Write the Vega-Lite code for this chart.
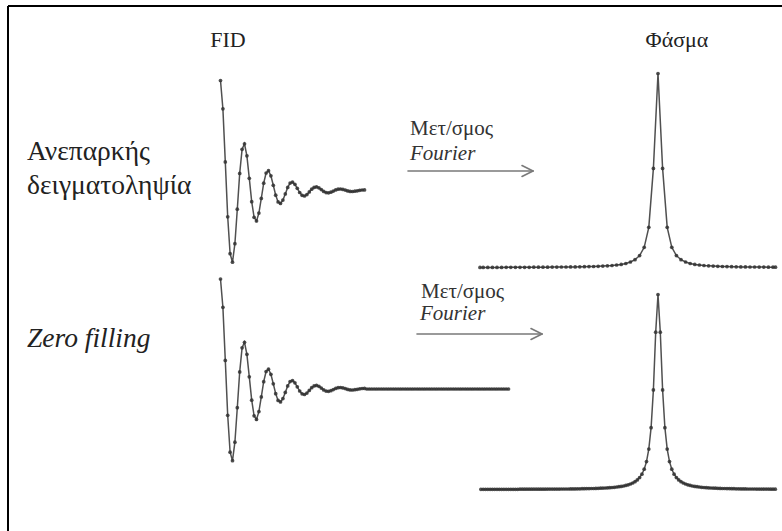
{
  "$schema": "https://vega.github.io/schema/vega-lite/v6.json",
  "width": 782,
  "height": 531,
  "autosize": {"type": "fit", "contains": "padding"},
  "padding": 0,
  "background": "white",
  "view": {"stroke": null},
  "datasets": {
    "curves": [
      {"c":"fid1","x":220.5,"y":80.5},{"c":"fid1","x":222.9,"y":108.8},{"c":"fid1","x":225.3,"y":161.9},{"c":"fid1","x":227.7,"y":216.8},{"c":"fid1","x":230.1,"y":253.7},{"c":"fid1","x":232.5,"y":262.2},{"c":"fid1","x":234.9,"y":243.7},{"c":"fid1","x":237.3,"y":209.2},{"c":"fid1","x":239.7,"y":173.4},{"c":"fid1","x":242.1,"y":149.3},{"c":"fid1","x":244.5,"y":143.8},{"c":"fid1","x":246.9,"y":155.8},{"c":"fid1","x":249.3,"y":178.3},{"c":"fid1","x":251.7,"y":201.7},{"c":"fid1","x":254.1,"y":217.3},{"c":"fid1","x":256.5,"y":220.9},{"c":"fid1","x":258.9,"y":213.1},{"c":"fid1","x":261.3,"y":198.4},{"c":"fid1","x":263.7,"y":183.2},{"c":"fid1","x":266.1,"y":173.0},{"c":"fid1","x":268.5,"y":170.7},{"c":"fid1","x":270.9,"y":175.8},{"c":"fid1","x":273.3,"y":185.3},{"c":"fid1","x":275.7,"y":195.2},{"c":"fid1","x":278.1,"y":201.9},{"c":"fid1","x":280.5,"y":203.4},{"c":"fid1","x":282.9,"y":200.1},{"c":"fid1","x":285.3,"y":193.9},{"c":"fid1","x":287.7,"y":187.4},{"c":"fid1","x":290.1,"y":183.1},{"c":"fid1","x":292.5,"y":182.1},{"c":"fid1","x":294.9,"y":184.3},{"c":"fid1","x":297.3,"y":188.3},{"c":"fid1","x":299.7,"y":192.5},{"c":"fid1","x":302.1,"y":195.3},{"c":"fid1","x":304.5,"y":196.0},{"c":"fid1","x":306.9,"y":194.6},{"c":"fid1","x":309.3,"y":191.9},{"c":"fid1","x":311.7,"y":189.2},{"c":"fid1","x":314.1,"y":187.4},{"c":"fid1","x":316.5,"y":186.9},{"c":"fid1","x":318.9,"y":187.8},{"c":"fid1","x":321.3,"y":189.6},{"c":"fid1","x":323.7,"y":191.4},{"c":"fid1","x":326.1,"y":192.6},{"c":"fid1","x":328.5,"y":192.8},{"c":"fid1","x":330.9,"y":192.2},{"c":"fid1","x":333.3,"y":191.1},{"c":"fid1","x":335.7,"y":189.9},{"c":"fid1","x":338.1,"y":189.2},{"c":"fid1","x":340.5,"y":189.0},{"c":"fid1","x":342.9,"y":189.4},{"c":"fid1","x":345.3,"y":190.1},{"c":"fid1","x":347.7,"y":190.9},{"c":"fid1","x":350.1,"y":191.4},{"c":"fid1","x":352.5,"y":191.5},{"c":"fid1","x":354.9,"y":191.2},{"c":"fid1","x":357.3,"y":190.8},{"c":"fid1","x":359.7,"y":190.3},{"c":"fid1","x":362.1,"y":190.0},{"c":"fid1","x":364.5,"y":189.9},

      {"c":"fid2","x":220.5,"y":279.0},{"c":"fid2","x":222.9,"y":307.3},{"c":"fid2","x":225.3,"y":360.4},{"c":"fid2","x":227.7,"y":415.3},{"c":"fid2","x":230.1,"y":452.2},{"c":"fid2","x":232.5,"y":460.7},{"c":"fid2","x":234.9,"y":442.2},{"c":"fid2","x":237.3,"y":407.7},{"c":"fid2","x":239.7,"y":371.9},{"c":"fid2","x":242.1,"y":347.8},{"c":"fid2","x":244.5,"y":342.3},{"c":"fid2","x":246.9,"y":354.3},{"c":"fid2","x":249.3,"y":376.8},{"c":"fid2","x":251.7,"y":400.2},{"c":"fid2","x":254.1,"y":415.8},{"c":"fid2","x":256.5,"y":419.4},{"c":"fid2","x":258.9,"y":411.6},{"c":"fid2","x":261.3,"y":396.9},{"c":"fid2","x":263.7,"y":381.7},{"c":"fid2","x":266.1,"y":371.5},{"c":"fid2","x":268.5,"y":369.2},{"c":"fid2","x":270.9,"y":374.3},{"c":"fid2","x":273.3,"y":383.8},{"c":"fid2","x":275.7,"y":393.7},{"c":"fid2","x":278.1,"y":400.4},{"c":"fid2","x":280.5,"y":401.9},{"c":"fid2","x":282.9,"y":398.6},{"c":"fid2","x":285.3,"y":392.4},{"c":"fid2","x":287.7,"y":385.9},{"c":"fid2","x":290.1,"y":381.6},{"c":"fid2","x":292.5,"y":380.6},{"c":"fid2","x":294.9,"y":382.8},{"c":"fid2","x":297.3,"y":386.8},{"c":"fid2","x":299.7,"y":391.0},{"c":"fid2","x":302.1,"y":393.8},{"c":"fid2","x":304.5,"y":394.5},{"c":"fid2","x":306.9,"y":393.1},{"c":"fid2","x":309.3,"y":390.4},{"c":"fid2","x":311.7,"y":387.7},{"c":"fid2","x":314.1,"y":385.9},{"c":"fid2","x":316.5,"y":385.4},{"c":"fid2","x":318.9,"y":386.3},{"c":"fid2","x":321.3,"y":388.1},{"c":"fid2","x":323.7,"y":389.9},{"c":"fid2","x":326.1,"y":391.1},{"c":"fid2","x":328.5,"y":391.3},{"c":"fid2","x":330.9,"y":390.7},{"c":"fid2","x":333.3,"y":389.6},{"c":"fid2","x":335.7,"y":388.4},{"c":"fid2","x":338.1,"y":387.7},{"c":"fid2","x":340.5,"y":387.5},{"c":"fid2","x":342.9,"y":387.9},{"c":"fid2","x":345.3,"y":388.6},{"c":"fid2","x":347.7,"y":389.4},{"c":"fid2","x":350.1,"y":389.9},{"c":"fid2","x":352.5,"y":390.0},{"c":"fid2","x":354.9,"y":389.7},{"c":"fid2","x":357.3,"y":389.3},{"c":"fid2","x":359.7,"y":388.8},{"c":"fid2","x":362.1,"y":388.5},{"c":"fid2","x":364.5,"y":388.4},
      {"c":"fid2","x":366.9,"y":389},{"c":"fid2","x":369.3,"y":389},{"c":"fid2","x":371.7,"y":389},{"c":"fid2","x":374.1,"y":389},{"c":"fid2","x":376.5,"y":389},{"c":"fid2","x":378.9,"y":389},{"c":"fid2","x":381.3,"y":389},{"c":"fid2","x":383.7,"y":389},{"c":"fid2","x":386.1,"y":389},{"c":"fid2","x":388.5,"y":389},{"c":"fid2","x":390.9,"y":389},{"c":"fid2","x":393.3,"y":389},{"c":"fid2","x":395.7,"y":389},{"c":"fid2","x":398.1,"y":389},{"c":"fid2","x":400.5,"y":389},{"c":"fid2","x":402.9,"y":389},{"c":"fid2","x":405.3,"y":389},{"c":"fid2","x":407.7,"y":389},{"c":"fid2","x":410.1,"y":389},{"c":"fid2","x":412.5,"y":389},{"c":"fid2","x":414.9,"y":389},{"c":"fid2","x":417.3,"y":389},{"c":"fid2","x":419.7,"y":389},{"c":"fid2","x":422.1,"y":389},{"c":"fid2","x":424.5,"y":389},{"c":"fid2","x":426.9,"y":389},{"c":"fid2","x":429.3,"y":389},{"c":"fid2","x":431.7,"y":389},{"c":"fid2","x":434.1,"y":389},{"c":"fid2","x":436.5,"y":389},{"c":"fid2","x":438.9,"y":389},{"c":"fid2","x":441.3,"y":389},{"c":"fid2","x":443.7,"y":389},{"c":"fid2","x":446.1,"y":389},{"c":"fid2","x":448.5,"y":389},{"c":"fid2","x":450.9,"y":389},{"c":"fid2","x":453.3,"y":389},{"c":"fid2","x":455.7,"y":389},{"c":"fid2","x":458.1,"y":389},{"c":"fid2","x":460.5,"y":389},{"c":"fid2","x":462.9,"y":389},{"c":"fid2","x":465.3,"y":389},{"c":"fid2","x":467.7,"y":389},{"c":"fid2","x":470.1,"y":389},{"c":"fid2","x":472.5,"y":389},{"c":"fid2","x":474.9,"y":389},{"c":"fid2","x":477.3,"y":389},{"c":"fid2","x":479.7,"y":389},{"c":"fid2","x":482.1,"y":389},{"c":"fid2","x":484.5,"y":389},{"c":"fid2","x":486.9,"y":389},{"c":"fid2","x":489.3,"y":389},{"c":"fid2","x":491.7,"y":389},{"c":"fid2","x":494.1,"y":389},{"c":"fid2","x":496.5,"y":389},{"c":"fid2","x":498.9,"y":389},{"c":"fid2","x":501.3,"y":389},{"c":"fid2","x":503.7,"y":389},{"c":"fid2","x":506.1,"y":389},{"c":"fid2","x":508.5,"y":389},

      {"c":"sp1","x":480.0,"y":267.4},{"c":"sp1","x":483.2,"y":267.4},{"c":"sp1","x":487.8,"y":267.4},{"c":"sp1","x":492.4,"y":267.4},{"c":"sp1","x":497.0,"y":267.4},{"c":"sp1","x":501.6,"y":267.4},{"c":"sp1","x":506.2,"y":267.3},{"c":"sp1","x":510.8,"y":267.3},{"c":"sp1","x":515.4,"y":267.3},{"c":"sp1","x":520.0,"y":267.3},{"c":"sp1","x":524.6,"y":267.3},{"c":"sp1","x":529.2,"y":267.3},{"c":"sp1","x":533.8,"y":267.2},{"c":"sp1","x":538.4,"y":267.2},{"c":"sp1","x":543.0,"y":267.2},{"c":"sp1","x":547.6,"y":267.2},{"c":"sp1","x":552.2,"y":267.1},{"c":"sp1","x":556.8,"y":267.1},{"c":"sp1","x":561.4,"y":267.0},{"c":"sp1","x":566.0,"y":267.0},{"c":"sp1","x":570.6,"y":266.9},{"c":"sp1","x":575.2,"y":266.9},{"c":"sp1","x":579.8,"y":266.8},{"c":"sp1","x":584.4,"y":266.7},{"c":"sp1","x":589.0,"y":266.6},{"c":"sp1","x":593.6,"y":266.5},{"c":"sp1","x":598.2,"y":266.3},{"c":"sp1","x":602.8,"y":266.1},{"c":"sp1","x":607.4,"y":265.8},{"c":"sp1","x":612.0,"y":265.5},{"c":"sp1","x":616.6,"y":265.0},{"c":"sp1","x":621.2,"y":264.4},{"c":"sp1","x":625.8,"y":263.5},{"c":"sp1","x":630.4,"y":262.0},{"c":"sp1","x":635.0,"y":259.7},{"c":"sp1","x":639.6,"y":255.6},{"c":"sp1","x":644.2,"y":247.3},{"c":"sp1","x":648.8,"y":227.3},{"c":"sp1","x":653.4,"y":168.4},{"c":"sp1","x":658.0,"y":73.5},{"c":"sp1","x":662.6,"y":168.4},{"c":"sp1","x":667.2,"y":227.3},{"c":"sp1","x":671.8,"y":247.3},{"c":"sp1","x":676.4,"y":255.6},{"c":"sp1","x":681.0,"y":259.7},{"c":"sp1","x":685.6,"y":262.0},{"c":"sp1","x":690.2,"y":263.5},{"c":"sp1","x":694.8,"y":264.4},{"c":"sp1","x":699.4,"y":265.0},{"c":"sp1","x":704.0,"y":265.5},{"c":"sp1","x":708.6,"y":265.8},{"c":"sp1","x":713.2,"y":266.1},{"c":"sp1","x":717.8,"y":266.3},{"c":"sp1","x":722.4,"y":266.5},{"c":"sp1","x":727.0,"y":266.6},{"c":"sp1","x":731.6,"y":266.7},{"c":"sp1","x":736.2,"y":266.8},{"c":"sp1","x":740.8,"y":266.9},{"c":"sp1","x":745.4,"y":266.9},{"c":"sp1","x":750.0,"y":267.0},{"c":"sp1","x":754.6,"y":267.0},{"c":"sp1","x":759.2,"y":267.1},{"c":"sp1","x":763.8,"y":267.1},{"c":"sp1","x":768.4,"y":267.2},{"c":"sp1","x":773.0,"y":267.2},{"c":"sp1","x":775.5,"y":267.2},

      {"c":"sp2","x":480.9,"y":489.3},{"c":"sp2","x":483.2,"y":489.3},{"c":"sp2","x":485.5,"y":489.3},{"c":"sp2","x":487.8,"y":489.3},{"c":"sp2","x":490.1,"y":489.3},{"c":"sp2","x":492.4,"y":489.3},{"c":"sp2","x":494.7,"y":489.3},{"c":"sp2","x":497.0,"y":489.3},{"c":"sp2","x":499.3,"y":489.3},{"c":"sp2","x":501.6,"y":489.3},{"c":"sp2","x":503.9,"y":489.3},{"c":"sp2","x":506.2,"y":489.3},{"c":"sp2","x":508.5,"y":489.3},{"c":"sp2","x":510.8,"y":489.3},{"c":"sp2","x":513.1,"y":489.3},{"c":"sp2","x":515.4,"y":489.3},{"c":"sp2","x":517.7,"y":489.3},{"c":"sp2","x":520.0,"y":489.2},{"c":"sp2","x":522.3,"y":489.2},{"c":"sp2","x":524.6,"y":489.2},{"c":"sp2","x":526.9,"y":489.2},{"c":"sp2","x":529.2,"y":489.2},{"c":"sp2","x":531.5,"y":489.2},{"c":"sp2","x":533.8,"y":489.2},{"c":"sp2","x":536.1,"y":489.2},{"c":"sp2","x":538.4,"y":489.2},{"c":"sp2","x":540.7,"y":489.2},{"c":"sp2","x":543.0,"y":489.2},{"c":"sp2","x":545.3,"y":489.2},{"c":"sp2","x":547.6,"y":489.1},{"c":"sp2","x":549.9,"y":489.1},{"c":"sp2","x":552.2,"y":489.1},{"c":"sp2","x":554.5,"y":489.1},{"c":"sp2","x":556.8,"y":489.1},{"c":"sp2","x":559.1,"y":489.1},{"c":"sp2","x":561.4,"y":489.0},{"c":"sp2","x":563.7,"y":489.0},{"c":"sp2","x":566.0,"y":489.0},{"c":"sp2","x":568.3,"y":489.0},{"c":"sp2","x":570.6,"y":488.9},{"c":"sp2","x":572.9,"y":488.9},{"c":"sp2","x":575.2,"y":488.9},{"c":"sp2","x":577.5,"y":488.8},{"c":"sp2","x":579.8,"y":488.8},{"c":"sp2","x":582.1,"y":488.7},{"c":"sp2","x":584.4,"y":488.7},{"c":"sp2","x":586.7,"y":488.6},{"c":"sp2","x":589.0,"y":488.6},{"c":"sp2","x":591.3,"y":488.5},{"c":"sp2","x":593.6,"y":488.5},{"c":"sp2","x":595.9,"y":488.4},{"c":"sp2","x":598.2,"y":488.3},{"c":"sp2","x":600.5,"y":488.2},{"c":"sp2","x":602.8,"y":488.1},{"c":"sp2","x":605.1,"y":488.0},{"c":"sp2","x":607.4,"y":487.8},{"c":"sp2","x":609.7,"y":487.7},{"c":"sp2","x":612.0,"y":487.5},{"c":"sp2","x":614.3,"y":487.3},{"c":"sp2","x":616.6,"y":487.0},{"c":"sp2","x":618.9,"y":486.7},{"c":"sp2","x":621.2,"y":486.4},{"c":"sp2","x":623.5,"y":486.0},{"c":"sp2","x":625.8,"y":485.4},{"c":"sp2","x":628.1,"y":484.8},{"c":"sp2","x":630.4,"y":484.0},{"c":"sp2","x":632.7,"y":483.0},{"c":"sp2","x":635.0,"y":481.7},{"c":"sp2","x":637.3,"y":479.9},{"c":"sp2","x":639.6,"y":477.6},{"c":"sp2","x":641.9,"y":474.2},{"c":"sp2","x":644.2,"y":469.2},{"c":"sp2","x":646.5,"y":461.6},{"c":"sp2","x":648.8,"y":449.1},{"c":"sp2","x":651.1,"y":427.7},{"c":"sp2","x":653.4,"y":389.9},{"c":"sp2","x":655.7,"y":332.2},{"c":"sp2","x":658.0,"y":294.5},{"c":"sp2","x":660.3,"y":332.2},{"c":"sp2","x":662.6,"y":389.9},{"c":"sp2","x":664.9,"y":427.7},{"c":"sp2","x":667.2,"y":449.1},{"c":"sp2","x":669.5,"y":461.6},{"c":"sp2","x":671.8,"y":469.2},{"c":"sp2","x":674.1,"y":474.2},{"c":"sp2","x":676.4,"y":477.6},{"c":"sp2","x":678.7,"y":479.9},{"c":"sp2","x":681.0,"y":481.7},{"c":"sp2","x":683.3,"y":483.0},{"c":"sp2","x":685.6,"y":484.0},{"c":"sp2","x":687.9,"y":484.8},{"c":"sp2","x":690.2,"y":485.4},{"c":"sp2","x":692.5,"y":486.0},{"c":"sp2","x":694.8,"y":486.4},{"c":"sp2","x":697.1,"y":486.7},{"c":"sp2","x":699.4,"y":487.0},{"c":"sp2","x":701.7,"y":487.3},{"c":"sp2","x":704.0,"y":487.5},{"c":"sp2","x":706.3,"y":487.7},{"c":"sp2","x":708.6,"y":487.8},{"c":"sp2","x":710.9,"y":488.0},{"c":"sp2","x":713.2,"y":488.1},{"c":"sp2","x":715.5,"y":488.2},{"c":"sp2","x":717.8,"y":488.3},{"c":"sp2","x":720.1,"y":488.4},{"c":"sp2","x":722.4,"y":488.5},{"c":"sp2","x":724.7,"y":488.5},{"c":"sp2","x":727.0,"y":488.6},{"c":"sp2","x":729.3,"y":488.6},{"c":"sp2","x":731.6,"y":488.7},{"c":"sp2","x":733.9,"y":488.7},{"c":"sp2","x":736.2,"y":488.8},{"c":"sp2","x":738.5,"y":488.8},{"c":"sp2","x":740.8,"y":488.9},{"c":"sp2","x":743.1,"y":488.9},{"c":"sp2","x":745.4,"y":488.9},{"c":"sp2","x":747.7,"y":489.0},{"c":"sp2","x":750.0,"y":489.0},{"c":"sp2","x":752.3,"y":489.0},{"c":"sp2","x":754.6,"y":489.0},{"c":"sp2","x":756.9,"y":489.1},{"c":"sp2","x":759.2,"y":489.1},{"c":"sp2","x":761.5,"y":489.1},{"c":"sp2","x":763.8,"y":489.1},{"c":"sp2","x":766.1,"y":489.1},{"c":"sp2","x":768.4,"y":489.1},{"c":"sp2","x":770.7,"y":489.2},{"c":"sp2","x":773.0,"y":489.2},{"c":"sp2","x":775.3,"y":489.2}
    ],
    "segments": [
      {"part":"frame","x":8,"y":6,"x2":800,"y2":6},
      {"part":"frame","x":8,"y":6,"x2":8,"y2":560},
      {"part":"arrow","x":408,"y":171,"x2":533,"y2":171},
      {"part":"arrow","x":522,"y":165.5,"x2":533,"y2":171},
      {"part":"arrow","x":522,"y":176.5,"x2":533,"y2":171},
      {"part":"arrow","x":417,"y":334,"x2":542,"y2":334},
      {"part":"arrow","x":531,"y":328.5,"x2":542,"y2":334},
      {"part":"arrow","x":531,"y":339.5,"x2":542,"y2":334}
    ],
    "labels": [
      {"role":"title","text":"FID","x":228,"y":47},
      {"role":"title","text":"Φάσμα","x":677,"y":47},
      {"role":"rowlabel","text":"Ανεπαρκής","x":27,"y":159.5},
      {"role":"rowlabel","text":"δειγματοληψία","x":27,"y":193.5},
      {"role":"rowlabelItalic","text":"Zero filling","x":27,"y":347},
      {"role":"caption","text":"Μετ/σμος","x":410,"y":135},
      {"role":"captionItalic","text":"Fourier","x":410,"y":160},
      {"role":"caption","text":"Μετ/σμος","x":421,"y":298},
      {"role":"captionItalic","text":"Fourier","x":420,"y":320}
    ]
  },
  "encoding": {
    "x": {"field": "x", "type": "quantitative", "scale": {"domain": [0, 782], "nice": false, "zero": false}, "axis": null},
    "y": {"field": "y", "type": "quantitative", "scale": {"domain": [0, 531], "reverse": true, "nice": false, "zero": false}, "axis": null}
  },
  "layer": [
    {
      "data": {"name": "segments"},
      "transform": [{"filter": "datum.part === 'frame'"}],
      "mark": {"type": "rule", "color": "#000000", "strokeWidth": 2, "clip": true},
      "encoding": {"x2": {"field": "x2"}, "y2": {"field": "y2"}}
    },
    {
      "data": {"name": "segments"},
      "transform": [{"filter": "datum.part === 'arrow'"}],
      "mark": {"type": "rule", "color": "#7a7a7a", "strokeWidth": 1.6, "strokeCap": "round"},
      "encoding": {"x2": {"field": "x2"}, "y2": {"field": "y2"}}
    },
    {
      "data": {"name": "curves"},
      "mark": {"type": "line", "color": "#505050", "strokeWidth": 1.5},
      "encoding": {"detail": {"field": "c"}}
    },
    {
      "data": {"name": "curves"},
      "mark": {"type": "point", "filled": true, "color": "#333333", "size": 14, "opacity": 0.85},
      "encoding": {"detail": {"field": "c"}}
    },
    {
      "data": {"name": "labels"},
      "transform": [{"filter": "datum.role === 'title'"}],
      "mark": {"type": "text", "font": "Liberation Serif", "fontSize": 22, "align": "center", "baseline": "alphabetic", "color": "#222222"},
      "encoding": {"text": {"field": "text"}}
    },
    {
      "data": {"name": "labels"},
      "transform": [{"filter": "datum.role === 'rowlabel'"}],
      "mark": {"type": "text", "font": "Liberation Serif", "fontSize": 27.5, "align": "left", "baseline": "alphabetic", "color": "#222222"},
      "encoding": {"text": {"field": "text"}}
    },
    {
      "data": {"name": "labels"},
      "transform": [{"filter": "datum.role === 'rowlabelItalic'"}],
      "mark": {"type": "text", "font": "Liberation Serif", "fontSize": 27.5, "fontStyle": "italic", "align": "left", "baseline": "alphabetic", "color": "#222222"},
      "encoding": {"text": {"field": "text"}}
    },
    {
      "data": {"name": "labels"},
      "transform": [{"filter": "datum.role === 'caption'"}],
      "mark": {"type": "text", "font": "Liberation Serif", "fontSize": 21, "align": "left", "baseline": "alphabetic", "color": "#333333"},
      "encoding": {"text": {"field": "text"}}
    },
    {
      "data": {"name": "labels"},
      "transform": [{"filter": "datum.role === 'captionItalic'"}],
      "mark": {"type": "text", "font": "Liberation Serif", "fontSize": 21, "fontStyle": "italic", "align": "left", "baseline": "alphabetic", "color": "#333333"},
      "encoding": {"text": {"field": "text"}}
    }
  ]
}
